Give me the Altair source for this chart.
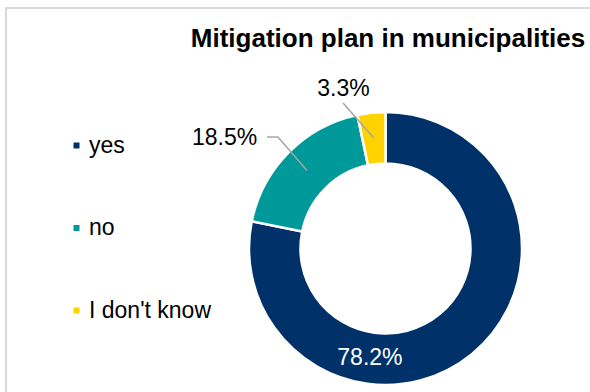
import math
import altair as alt
import pandas as pd

# ---- data ----
categories = ["yes", "no", "I don't know"]
shares = [78.2, 18.5, 3.3]
label_texts = ["78.2%", "18.5%", "3.3%"]
colors = ["#003168", "#009999", "#FFD200"]
TITLE = "Mitigation plan in municipalities"

# ---- layout ----
W, H = 590, 392
CX, CY = 385.5, 248.5
R_OUT, R_IN = 136.5, 85.0
FONT = "Liberation Sans"

x_dom = [-CX / R_OUT, (W - CX) / R_OUT]
y_dom = [-(H - CY) / R_OUT, CY / R_OUT]

# label anchors (radius units relative to donut centre)
label_pos = {"yes": (-0.114, -0.853), "no": (-1.179, 0.758), "I don't know": (-0.308, 1.114)}
label_color = {"yes": "white", "no": "black", "I don't know": "black"}
leader_start = {"no": [(-0.868, 0.817), (-0.788, 0.817)],
                "I don't know": [(-0.311, 1.066)]}

df = pd.DataFrame({"category": categories, "share": shares, "idx": range(len(categories))})

# mid-angles of slices from data
total = sum(shares)
cum = 0.0
mid_frac = {}
for c, s in zip(categories, shares):
    mid_frac[c] = (cum + s / 2) / total
    cum += s
r_mid = (R_IN / R_OUT + 1) / 2

line_rows = []
for c, pts in leader_start.items():
    a = 2 * math.pi * mid_frac[c]
    allpts = list(pts) + [(r_mid * math.sin(a), r_mid * math.cos(a))]
    for k, (px, py) in enumerate(allpts):
        line_rows.append({"seg": c, "ord": k, "px": px, "py": py})
lines_df = pd.DataFrame(line_rows)

lab_df = pd.DataFrame({
    "category": categories,
    "text": label_texts,
    "px": [label_pos[c][0] for c in categories],
    "py": [label_pos[c][1] for c in categories],
    "col": [label_color[c] for c in categories],
})

xs = alt.Scale(domain=x_dom, nice=False, zero=False)
ys = alt.Scale(domain=y_dom, nice=False, zero=False)

one = pd.DataFrame({"a": [0]})

border = alt.Chart(one).mark_rect(fillOpacity=0, stroke="#d9d9d9", strokeWidth=2).encode(
    x=alt.value(6), y=alt.value(8), x2=alt.value(800), y2=alt.value(600))

arc = alt.Chart(df).mark_arc(outerRadius=R_OUT, innerRadius=R_IN, stroke="white",
                             strokeWidth=2.5).encode(
    theta=alt.Theta("share:Q", stack=True),
    order=alt.Order("idx:Q"),
    color=alt.Color("category:N",
                    scale=alt.Scale(domain=categories, range=colors),
                    sort=categories,
                    legend=alt.Legend(title=None, orient="none", legendX=65, legendY=134,
                                      symbolType="square", symbolSize=36, symbolStrokeWidth=0,
                                      labelFontSize=23, labelFont=FONT, labelColor="black",
                                      labelOffset=1, rowPadding=58.5, padding=0,
                                      direction="vertical")),
    x=alt.value(CX), y=alt.value(CY))

leaders = alt.Chart(lines_df).mark_line(color="#a6a6a6", strokeWidth=1.5).encode(
    x=alt.X("px:Q", scale=xs, axis=None),
    y=alt.Y("py:Q", scale=ys, axis=None),
    detail="seg:N",
    order="ord:Q")

labels = alt.Chart(lab_df).mark_text(fontSize=23, font=FONT, align="center",
                                     baseline="alphabetic").encode(
    x=alt.X("px:Q", scale=xs, axis=None),
    y=alt.Y("py:Q", scale=ys, axis=None),
    text="text:N",
    color=alt.Color("col:N", scale=None))

title = alt.Chart(one).mark_text(text=TITLE, fontSize=26, fontWeight="bold", font=FONT,
                                 align="center", baseline="alphabetic", color="black").encode(
    x=alt.value(388), y=alt.value(47))

chart = alt.layer(border, arc, leaders, labels, title).properties(
    width=W, height=H, padding=0, autosize=alt.AutoSizeParams(type="none"),
    background="white"
).configure_view(stroke=None)

chart.save("out.html", embed_options={"renderer": "svg", "actions": False})
